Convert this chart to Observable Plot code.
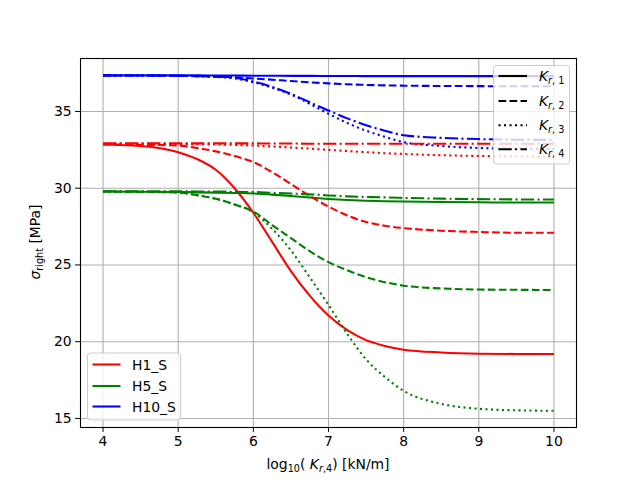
<!DOCTYPE html>
<html>
<head>
<meta charset="utf-8">
<script src="https://cdn.jsdelivr.net/npm/d3@7"></script>
<script src="https://cdn.jsdelivr.net/npm/@observablehq/plot@0.6"></script>
<style>
  html, body { margin: 0; padding: 0; background: white; }
</style>
</head>
<body>
<div id="chart"></div>
<script>
// x values: log10(K_r,4)
const xs = [4, 4.5, 5, 5.25, 5.5, 5.75, 6, 6.25, 6.5, 6.75, 7, 7.25, 7.5, 7.75, 8, 8.5, 9, 9.5, 10];

// H1_S
const h1_k1 = [32.85, 32.75, 32.35, 31.9, 31.2, 30.0, 28.4, 26.5, 24.6, 23.0, 21.7, 20.75, 20.1, 19.72, 19.48, 19.3, 19.22, 19.2, 19.2];
const h1_k2 = [32.85, 32.83, 32.78, 32.62, 32.4, 32.1, 31.7, 31.05, 30.27, 29.5, 28.8, 28.22, 27.8, 27.55, 27.4, 27.23, 27.15, 27.1, 27.1];
const h1_k3 = [32.9, 32.9, 32.88, 32.87, 32.85, 32.82, 32.78, 32.72, 32.65, 32.58, 32.5, 32.42, 32.35, 32.28, 32.23, 32.15, 32.1, 32.07, 32.05];
const h1_k4 = [32.92, 32.92, 32.92, 32.92, 32.92, 32.92, 32.92, 32.91, 32.91, 32.9, 32.9, 32.9, 32.9, 32.9, 32.9, 32.9, 32.9, 32.9, 32.9];

// H5_S
const h5_k1 = [29.78, 29.77, 29.75, 29.73, 29.71, 29.69, 29.66, 29.58, 29.49, 29.39, 29.3, 29.23, 29.18, 29.15, 29.13, 29.1, 29.08, 29.07, 29.07];
const h5_k2 = [29.78, 29.76, 29.72, 29.55, 29.31, 28.94, 28.48, 27.6, 26.75, 25.9, 25.18, 24.65, 24.2, 23.88, 23.65, 23.47, 23.4, 23.38, 23.37];
const h5_k3 = [29.78, 29.76, 29.72, 29.55, 29.31, 28.94, 28.42, 27.35, 25.95, 24.2, 22.4, 20.5, 18.85, 17.7, 16.8, 15.95, 15.63, 15.53, 15.5];
const h5_k4 = [29.8, 29.8, 29.8, 29.79, 29.78, 29.77, 29.75, 29.7, 29.65, 29.6, 29.53, 29.47, 29.43, 29.4, 29.37, 29.32, 29.29, 29.27, 29.26];

// H10_S
const h10_k1 = [37.35, 37.35, 37.35, 37.35, 37.34, 37.34, 37.33, 37.33, 37.32, 37.32, 37.31, 37.31, 37.3, 37.3, 37.3, 37.3, 37.3, 37.3, 37.3];
const h10_k2 = [37.35, 37.34, 37.32, 37.3, 37.27, 37.22, 37.15, 37.07, 36.98, 36.9, 36.83, 36.77, 36.73, 36.7, 36.68, 36.66, 36.65, 36.64, 36.64];
const h10_k3 = [37.35, 37.34, 37.32, 37.3, 37.25, 37.15, 36.9, 36.55, 36.1, 35.5, 34.85, 34.25, 33.75, 33.35, 33.0, 32.75, 32.62, 32.57, 32.55];
const h10_k4 = [37.35, 37.34, 37.32, 37.3, 37.27, 37.2, 36.95, 36.6, 36.15, 35.6, 35.06, 34.55, 34.1, 33.75, 33.45, 33.28, 33.2, 33.16, 33.15];

const groups = ["H1_S", "H5_S", "H10_S"];
const groupColors = ["#ff0000", "#008000", "#0000ff"];
const kLabels = ["1", "2", "3", "4"];
const xTicks = [4, 5, 6, 7, 8, 9, 10];
const yTicks = [15, 20, 25, 30, 35];

const seriesTable = {
  "H1_S": [h1_k1, h1_k2, h1_k3, h1_k4],
  "H5_S": [h5_k1, h5_k2, h5_k3, h5_k4],
  "H10_S": [h10_k1, h10_k2, h10_k3, h10_k4]
};

const rows = [];
for (const g of groups) {
  seriesTable[g].forEach((arr, ki) => {
    arr.forEach((v, i) => rows.push({group: g, k: ki, series: g + "_" + ki, x: xs[i], y: v}));
  });
}

const dashes = [null, "7.7,3.3", "2.1,3.4", "13.3,3.3,2.1,3.3"];

const lineMarks = [];
for (let ki = 0; ki < 4; ki++) {
  lineMarks.push(Plot.line(rows.filter(d => d.k === ki), {
    x: "x", y: "y", z: "series", stroke: "group",
    strokeWidth: 2.08, strokeDasharray: dashes[ki] || undefined,
    curve: "monotone-x", strokeLinecap: "butt", strokeLinejoin: "round"
  }));
}

const chart = Plot.plot({
  width: 640,
  height: 480,
  marginLeft: 80,
  marginRight: 64,
  marginTop: 58,
  marginBottom: 53,
  style: {fontFamily: "DejaVu Sans", fontSize: "13.9px", background: "white", color: "black"},
  x: {domain: [3.7, 10.3]},
  y: {domain: [14.41, 38.45]},
  color: {domain: groups, range: groupColors},
  marks: [
    Plot.gridX(xTicks, {stroke: "#b0b0b0", strokeOpacity: 1, strokeWidth: 1.1}),
    Plot.gridY(yTicks, {stroke: "#b0b0b0", strokeOpacity: 1, strokeWidth: 1.1}),
    ...lineMarks,
    Plot.frame({stroke: "black", strokeWidth: 1.1}),
    Plot.axisX(xTicks, {tickSize: 4.9, tickPadding: 4, label: null, fontSize: 13.9, tickFormat: d => String(d)}),
    Plot.axisY(yTicks, {tickSize: 4.9, tickPadding: 4, label: null, fontSize: 13.9, tickFormat: d => String(d)})
  ]
});

document.getElementById("chart").appendChild(chart);

const svg = d3.select(chart);
const font = "DejaVu Sans";

// X label: log10( K_r,4 ) [kN/m]
const xl = svg.append("text")
  .attr("x", 328).attr("y", 469)
  .attr("text-anchor", "middle")
  .attr("font-family", font).attr("font-size", 13.9).attr("fill", "black");
xl.append("tspan").text("log");
xl.append("tspan").attr("font-size", 9.7).attr("dy", 3).text("10");
xl.append("tspan").attr("dy", -3).text("( ");
xl.append("tspan").attr("font-style", "italic").text("K");
xl.append("tspan").attr("font-size", 9.7).attr("dy", 3).attr("font-style", "italic").text("r");
xl.append("tspan").attr("font-size", 9.7).text(",4");
xl.append("tspan").attr("dy", -3).text(") [kN/m]");

// Y label: sigma_right [MPa]
const yl = svg.append("text")
  .attr("transform", "translate(40,242) rotate(-90)")
  .attr("text-anchor", "middle")
  .attr("font-family", font).attr("font-size", 13.9).attr("fill", "black");
yl.append("tspan").attr("font-style", "italic").text("σ");
yl.append("tspan").attr("font-size", 9.7).attr("dy", 3).text("right");
yl.append("tspan").attr("dy", -3).text(" [MPa]");

// Legend: groups (lower left)
const lg1 = svg.append("g").attr("text-anchor", "start");
lg1.append("rect").attr("x", 87.5).attr("y", 353).attr("width", 93).attr("height", 67)
  .attr("rx", 3).attr("fill", "white").attr("fill-opacity", 0.8)
  .attr("stroke", "#cccccc").attr("stroke-width", 1);
const gy = [364.5, 386, 406.5];
groups.forEach((g, i) => {
  lg1.append("line").attr("x1", 92.5).attr("x2", 120.5).attr("y1", gy[i]).attr("y2", gy[i])
    .attr("stroke", groupColors[i]).attr("stroke-width", 2.08);
  lg1.append("text").attr("x", 132).attr("y", gy[i] + 5).attr("text-anchor", "start")
    .attr("font-family", font).attr("font-size", 13.9).attr("fill", "black").text(g);
});

// Legend: line styles (upper right)
const lg2 = svg.append("g").attr("text-anchor", "start");
lg2.append("rect").attr("x", 493.5).attr("y", 65.5).attr("width", 76).attr("height", 98.5)
  .attr("rx", 3).attr("fill", "white").attr("fill-opacity", 0.8)
  .attr("stroke", "#cccccc").attr("stroke-width", 1);
const ky = [76, 101, 125.3, 149.3];
kLabels.forEach((k, i) => {
  const ln = lg2.append("line").attr("x1", 498.5).attr("x2", 527).attr("y1", ky[i]).attr("y2", ky[i])
    .attr("stroke", "black").attr("stroke-width", 2.08);
  if (dashes[i]) ln.attr("stroke-dasharray", dashes[i]);
  const t = lg2.append("text").attr("x", 539).attr("y", ky[i] + 5).attr("text-anchor", "start")
    .attr("font-family", font).attr("font-size", 13.9).attr("fill", "black");
  t.append("tspan").attr("font-style", "italic").text("K");
  t.append("tspan").attr("font-size", 9.7).attr("dy", 3).attr("font-style", "italic").text("r");
  t.append("tspan").attr("font-size", 9.7).text(", " + k);
});
</script>
</body>
</html>
